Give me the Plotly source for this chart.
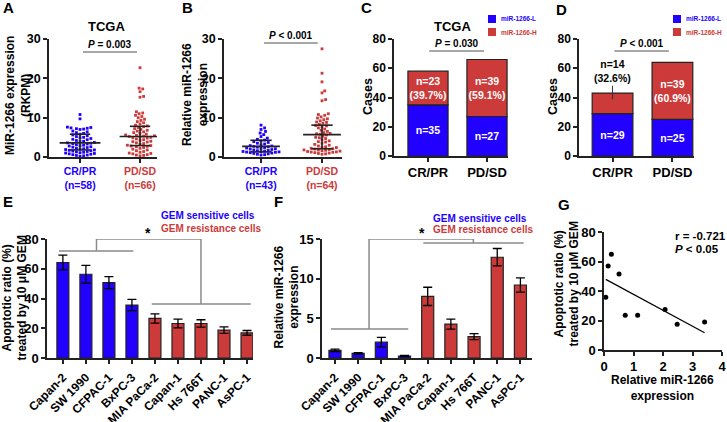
import numpy as np
import plotly.graph_objects as go

W, H = 727, 422
FONT = "Liberation Sans"
BLUE = "#2200ff"
RED = "#cc3a3a"
GRAY = "#8a8a8a"
AX = "#222222"

# ---- data -------------------------------------------------------------
groups = ["CR/PR", "PD/SD"]

# A: TCGA miR-1266 (RKPM)
a_n = [58, 66]
a_crpr = [10.8, 9.7, 7.6, 7.5, 7.4, 7.3, 7.2, 7.1, 7.0, 6.6, 6.4, 6.2, 6.0, 5.8, 5.6,
          5.4, 5.2, 5.0, 4.9, 4.7, 4.5, 4.4, 4.2, 4.0, 3.9, 3.7, 3.6, 3.5, 3.4, 3.3,
          3.1, 3.0, 2.9, 2.8, 2.6, 2.5, 2.4, 2.2, 2.1, 2.0, 1.9, 1.8, 1.7, 1.6, 1.5,
          1.4, 1.3, 1.2, 1.1, 1.0, 0.9, 0.8, 0.7, 0.6, 0.5, 0.4, 0.3, 0.2]
a_pdsd = [22.7, 17.5, 17.3, 16.6, 15.4, 15.2, 11.5, 11.2, 11.0, 10.6, 10.3, 10.0, 9.6,
          9.3, 9.0, 8.7, 8.4, 8.1, 7.9, 7.7, 7.5, 7.2, 7.0, 6.8, 6.6, 6.4, 6.2, 6.0,
          5.8, 5.6, 5.5, 5.4, 5.3, 5.2, 5.1, 5.0, 4.9, 4.8, 4.6, 4.4, 4.2, 4.0, 3.9,
          3.8, 3.6, 3.4, 3.2, 3.0, 2.9, 2.8, 2.7, 2.6, 2.4, 2.2, 2.0, 1.8, 1.6, 1.4,
          1.2, 1.0, 0.9, 0.8, 0.6, 0.5, 0.4, 0.3]
a_median = [3.6, 5.2]
a_q1 = [1.8, 2.9]
a_q3 = [5.8, 7.8]

# B: relative miR-1266 (own cohort)
b_n = [43, 64]
b_crpr = [8.1, 7.4, 7.0, 6.5, 6.1, 5.7, 5.2, 4.8, 4.5, 4.3, 4.1, 3.9, 3.7, 3.5, 3.3,
          3.1, 2.9, 2.8, 2.7, 2.6, 2.5, 2.4, 2.3, 2.2, 2.1, 2.0, 1.9, 1.8, 1.7, 1.6,
          1.5, 1.4, 1.35, 1.3, 1.25, 1.2, 1.1, 1.0, 0.9, 0.8, 0.7, 0.6, 0.5]
b_pdsd = [27.5, 21.3, 19.1, 16.8, 16.3, 14.6, 14.3, 11.0, 10.8, 10.6, 10.2, 9.9, 9.7,
          9.5, 9.2, 8.9, 8.8, 8.6, 8.3, 8.0, 7.9, 7.7, 7.4, 7.1, 6.8, 6.5, 6.2, 6.0,
          5.9, 5.8, 5.6, 5.3, 5.0, 4.9, 4.7, 4.4, 4.1, 3.9, 3.8, 3.5, 3.2, 3.0, 2.8,
          2.6, 2.5, 2.4, 2.2, 2.1, 2.0, 1.9, 1.8, 1.75, 1.7, 1.6, 1.5, 1.4, 1.3, 1.25,
          1.2, 1.1, 1.0, 0.9, 0.8, 0.7]
b_median = [2.7, 5.7]
b_q1 = [1.3, 2.1]
b_q3 = [4.25, 8.1]

# C / D: stacked case counts
c_low = [35, 27]
c_high = [23, 39]
c_pct = [39.7, 59.1]
d_low = [29, 25]
d_high = [14, 39]
d_pct = [32.6, 60.9]

# E / F: cell lines
cells = ["Capan-2", "SW 1990", "CFPAC-1", "BxPC-3", "MIA PaCa-2", "Capan-1",
         "Hs 766T", "PANC-1", "AsPC-1"]
sensitive = [True, True, True, True, False, False, False, False, False]
e_mean = [64.2, 56.3, 50.7, 35.6, 26.6, 23.2, 23.2, 18.7, 16.9]
e_err = [5.0, 6.0, 4.0, 3.8, 3.1, 2.9, 2.5, 2.2, 1.6]
f_mean = [0.97, 0.59, 1.99, 0.25, 7.77, 4.27, 2.70, 12.7, 9.2]
f_err = [0.15, 0.10, 0.60, 0.08, 1.15, 0.62, 0.38, 1.10, 0.90]

# G: correlation
g_x = [0.06, 0.14, 0.25, 0.51, 0.72, 1.14, 2.07, 2.48, 3.41]
g_y = [35.8, 56.9, 65.0, 51.5, 23.6, 23.6, 27.4, 17.5, 19.0]


# ---- helpers ----------------------------------------------------------
def dom_x(a, b):
    return [a / W, b / W]


def dom_y(top, bot):
    return [1 - bot / H, 1 - top / H]


def bold(size, color="black"):
    return dict(family=FONT, size=size, color=color, weight="bold")


def axis(**kw):
    base = dict(showline=True, linecolor=AX, linewidth=1.5, ticks="outside", ticklen=4,
                tickwidth=1.5, tickcolor=AX, showgrid=False, zeroline=False,
                fixedrange=True, automargin=False, tickfont=bold(12.5))
    base.update(kw)
    return base


def swarm(vals, center, ppx, ppy, gap=3.3):
    # simple beeswarm: place each dot at the smallest horizontal offset without overlap
    placed, xs, ys = [], [], []
    for v in sorted(vals):
        y = v * ppy
        off = 0.0
        step = 0
        while True:
            cand = 0.0 if step == 0 else ((step + 1) // 2) * 0.9 * (1 if step % 2 else -1)
            if all((cand - px) ** 2 + (y - py) ** 2 >= gap * gap for px, py in placed):
                off = cand
                break
            step += 1
        placed.append((off, y))
        xs.append(center + off / ppx)
        ys.append(v)
    return xs, ys


def summary(center, med, lo, hi, half, cap):
    xs = [center - half, center + half, None, center - cap, center + cap, None,
          center - cap, center + cap, None, center, center]
    ys = [med, med, None, hi, hi, None, lo, lo, None, lo, hi]
    return xs, ys


fig = go.Figure()
annotations = []
shapes = []

# ---- A & B: dot plots ----------------------------------------------------
dot_panels = [
    ("x", "y", [a_crpr, a_pdsd], a_median, a_q1, a_q3, a_n, 60, 118 / 30, 0.34, 0.17),
    ("x2", "y2", [b_crpr, b_pdsd], b_median, b_q1, b_q3, b_n, 61, 118 / 30, 0.31, 0.175),
]
for xa, ya, sets, med, q1, q3, ns, ppx, ppy, half, cap in dot_panels:
    for i, vals in enumerate(sets):
        xs, ys = swarm(vals, i, ppx, ppy)
        fig.add_trace(go.Scatter(x=xs, y=ys, mode="markers", xaxis=xa, yaxis=ya,
                                 marker=dict(symbol="square", size=2.8,
                                             color=[BLUE, RED][i]),
                                 showlegend=False, hoverinfo="y"))
        sx, sy = summary(i, med[i], q1[i], q3[i], half, cap)
        fig.add_trace(go.Scatter(x=sx, y=sy, mode="lines", xaxis=xa, yaxis=ya,
                                 line=dict(color=AX, width=1.6), showlegend=False,
                                 hoverinfo="skip"))

# ---- C & D: stacked bars -------------------------------------------------
for xa, ya, low, high, pct, outside in [("x3", "y3", c_low, c_high, c_pct, []),
                                        ("x4", "y4", d_low, d_high, d_pct, [0])]:
    fig.add_trace(go.Bar(x=[0, 1], y=low, xaxis=xa, yaxis=ya, width=0.68,
                         marker=dict(color=BLUE, line=dict(color=AX, width=1.2)),
                         text=[f"n={v}" for v in low], textposition="inside",
                         insidetextanchor="middle", textangle=0, constraintext="none",
                         textfont=bold(10.5, "white"), name="miR-1266-L",
                         showlegend=False))
    txt = ["" if i in outside else f"n={high[i]}<br>({pct[i]}%)" for i in range(2)]
    fig.add_trace(go.Bar(x=[0, 1], y=high, base=low, xaxis=xa, yaxis=ya, width=0.68,
                         marker=dict(color=RED, line=dict(color=AX, width=1.2)),
                         text=txt, textposition="inside", insidetextanchor="middle",
                         textangle=0, constraintext="none",
                         textfont=bold(10.5, "white"), name="miR-1266-H",
                         showlegend=False))

annotations.append(dict(x=0, y=d_low[0] + d_high[0] * 0.7, xref="x4", yref="y4",
                        text=f"n={d_high[0]}<br>({d_pct[0]}%)", showarrow=True,
                        arrowhead=0, arrowwidth=1, arrowcolor="#333", ax=0, ay=-28,
                        font=bold(10.5)))

# ---- E & F: cell line bars ----------------------------------------------
colors = [BLUE if s else RED for s in sensitive]
for xa, ya, vals, errs in [("x5", "y5", e_mean, e_err), ("x6", "y6", f_mean, f_err)]:
    fig.add_trace(go.Bar(x=list(range(len(cells))), y=vals, xaxis=xa, yaxis=ya,
                         width=0.52,
                         marker=dict(color=colors, line=dict(color=AX, width=1.2)),
                         error_y=dict(type="data", array=errs, color="black",
                                      thickness=1.3, width=4.5),
                         showlegend=False))

# ---- G: scatter with fit -----------------------------------------------
fig.add_trace(go.Scatter(x=g_x, y=g_y, mode="markers", xaxis="x7", yaxis="y7",
                         marker=dict(color="black", size=5), showlegend=False,
                         cliponaxis=False))
slope, icpt = np.polyfit(g_x, g_y, 1)
fx = [min(g_x), max(g_x)]
fig.add_trace(go.Scatter(x=fx, y=[slope * v + icpt for v in fx], mode="lines",
                         xaxis="x7", yaxis="y7", line=dict(color="black", width=1.2),
                         showlegend=False))

# ---- axes ----------------------------------------------------------------
def cat_text(ns):
    return [f"<span style='color:{BLUE}'>CR/PR<br>(n={ns[0]})</span>",
            f"<span style='color:{RED}'>PD/SD<br>(n={ns[1]})</span>"]


layout_axes = dict(
    xaxis=axis(domain=dom_x(49, 157), range=[-0.517, 1.283], tickvals=[0, 1],
               ticktext=cat_text(a_n), anchor="y", tickfont=bold(10.5)),
    yaxis=axis(domain=dom_y(39, 157), range=[0, 30], tickvals=[0, 10, 20, 30], anchor="x"),
    xaxis2=axis(domain=dom_x(224, 342), range=[-0.607, 1.328], tickvals=[0, 1],
                ticktext=cat_text(b_n), anchor="y2", tickfont=bold(10.5)),
    yaxis2=axis(domain=dom_y(39, 157), range=[0, 30], tickvals=[0, 10, 20, 30], anchor="x2"),
    xaxis3=axis(domain=dom_x(394, 508), range=[-0.576, 1.356], tickvals=[0, 1],
                ticktext=groups, anchor="y3", tickfont=bold(13)),
    yaxis3=axis(domain=dom_y(39, 156), range=[0, 80], tickvals=[0, 20, 40, 60, 80],
                anchor="x3", tickfont=bold(12)),
    xaxis4=axis(domain=dom_x(579, 694), range=[-0.56, 1.36], tickvals=[0, 1],
                ticktext=groups, anchor="y4", tickfont=bold(13)),
    yaxis4=axis(domain=dom_y(39, 156), range=[0, 80], tickvals=[0, 20, 40, 60, 80],
                anchor="x4", tickfont=bold(12)),
    xaxis5=axis(domain=dom_x(47, 253), range=[-0.69, 8.26], tickvals=list(range(9)),
                ticktext=cells, tickangle=-45, anchor="y5", tickfont=bold(12),
                ticklabelstandoff=2),
    yaxis5=axis(domain=dom_y(239, 358), range=[0, 80], tickvals=[0, 20, 40, 60, 80],
                anchor="x5", tickfont=bold(13)),
    xaxis6=axis(domain=dom_x(322, 532), range=[-0.56, 8.5], tickvals=list(range(9)),
                ticktext=cells, tickangle=-45, anchor="y6", tickfont=bold(12),
                ticklabelstandoff=2),
    yaxis6=axis(domain=dom_y(239, 358), range=[0, 15], tickvals=[0, 5, 10, 15],
                anchor="x6", tickfont=bold(13)),
    xaxis7=axis(domain=dom_x(604, 722), range=[0, 4], tickvals=[0, 1, 2, 3, 4],
                anchor="y7", tickfont=bold(13)),
    yaxis7=axis(domain=dom_y(232, 350), range=[0, 80], tickvals=[0, 20, 40, 60, 80],
                anchor="x7", tickfont=bold(13)),
)


# ---- text ----------------------------------------------------------------
def paper_text(px, py, text, size, color="black", angle=0, xanchor="center"):
    annotations.append(dict(x=px / W, y=1 - py / H, xref="paper", yref="paper",
                            text=text, showarrow=False, textangle=angle,
                            xanchor=xanchor, yanchor="middle", font=bold(size, color)))


for lab, px, py in [("A", 1, 8), ("B", 180, 8), ("C", 359, 8), ("D", 554, 9),
                    ("E", 1, 202), ("F", 272, 202), ("G", 556, 205)]:
    paper_text(px, py, lab, 15, xanchor="left")

paper_text(107, 27, "TCGA", 13)
paper_text(452, 27, "TCGA", 13)

paper_text(18, 96, "MiR-1266 expression<br>(RKPM)", 12, angle=-90)
paper_text(195, 95, "Relative miR-1266<br>expression", 12, angle=-90)
paper_text(368, 97, "Cases", 12.5, angle=-90)
paper_text(553, 97, "Cases", 12.5, angle=-90)
paper_text(14.5, 298, "Apoptotic ratio (%)<br>treated by 10 \u03bcM GEM", 12, angle=-90)
paper_text(286.5, 297, "Relative miR-1266<br>expression", 12, angle=-90)
paper_text(566.5, 284, "Apoptotic ratio (%)<br>treated by 10 \u03bcM GEM", 12, angle=-90)
paper_text(662, 388, "Relative miR-1266<br>expression", 12)

# legends of C and D
for lx in [488, 673]:
    for ly, col, lab in [(19, BLUE, "miR-1266-L"), (32, RED, "miR-1266-H")]:
        shapes.append(dict(type="rect", xref="paper", yref="paper", x0=lx / W,
                           x1=(lx + 8) / W, y0=1 - (ly + 4) / H, y1=1 - (ly - 4) / H,
                           fillcolor=col, line=dict(width=0)))
        paper_text(lx + 11, ly, lab, 6.5, col, xanchor="left")

# legends of E and F
for lx, ly in [(159, 216), (431, 218)]:
    paper_text(lx, ly, "GEM sensitive cells", 10, BLUE, xanchor="left")
    paper_text(lx, ly + 12, "GEM resistance cells", 10, RED, xanchor="left")

# G statistics
paper_text(673, 236, "r = -0.721", 11.5, xanchor="left")
paper_text(673, 249, "<i>P</i> < 0.05", 11.5, xanchor="left")


# significance brackets
def line(xref, yref, x0, y0, x1, y1):
    shapes.append(dict(type="line", xref=xref, yref=yref, x0=x0, y0=y0, x1=x1, y1=y1,
                       line=dict(color=GRAY, width=1.5)))


for xa, ya, x0, x1, yv, txt in [("x", "y", 0.05, 0.95, 26.7, "<i>P</i> = 0.003"),
                                ("x2", "y2", 0.05, 0.93, 29.0, "<i>P</i> < 0.001"),
                                ("x3", "y3", 0.02, 0.95, 71.8, "<i>P</i> = 0.030"),
                                ("x4", "y4", 0.03, 0.94, 71.8, "<i>P</i> < 0.001")]:
    line(xa, ya, x0, yv, x1, yv)
    annotations.append(dict(x=(x0 + x1) / 2, y=yv, xref=xa, yref=ya, text=txt,
                            showarrow=False, yanchor="bottom", font=bold(10)))

# E bracket
line("x5", "y5", -0.17, 72, 3.06, 72)
line("x5", "y5", 1.46, 72, 1.46, 80)
line("x5", "y5", 1.46, 80, 6.0, 80)
line("x5", "y5", 6.0, 80, 6.0, 36.3)
line("x5", "y5", 3.86, 36.3, 8.16, 36.3)
annotations.append(dict(x=3.7, y=80, xref="x5", yref="y5", text="*", showarrow=False,
                        yanchor="bottom", yshift=-4, font=bold(14)))
# F bracket
line("x6", "y6", -0.17, 3.66, 3.16, 3.66)
line("x6", "y6", 1.47, 3.66, 1.47, 15)
line("x6", "y6", 1.47, 15, 5.97, 15)
line("x6", "y6", 5.97, 15, 5.97, 14.5)
line("x6", "y6", 3.81, 14.5, 8.14, 14.5)
annotations.append(dict(x=3.77, y=15, xref="x6", yref="y6", text="*", showarrow=False,
                        yanchor="bottom", yshift=-4, font=bold(14)))

fig.update_layout(
    width=W, height=H, autosize=False,
    margin=dict(l=0, r=0, t=0, b=0),
    paper_bgcolor="white", plot_bgcolor="white",
    barmode="overlay", showlegend=False,
    font=dict(family=FONT, color="black"),
    annotations=annotations, shapes=shapes,
    **layout_axes,
)

# the page's default 8px body margin would shift the fixed-size figure
fig.write_html("out.html", config={"displayModeBar": False},
               post_script="document.body.style.margin = '0';")
